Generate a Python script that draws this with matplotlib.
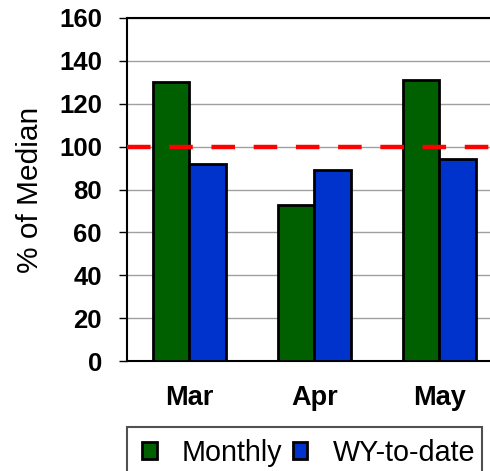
import numpy as np
import matplotlib.pyplot as plt
from matplotlib.patches import Rectangle

plt.rcParams['font.family'] = ['Liberation Sans', 'DejaVu Sans']

months = ["Mar", "Apr", "May"]
monthly = [130, 73, 131]
wy_to_date = [92, 89, 94]
median_line = 100

fig = plt.figure(figsize=(4.9, 4.71), dpi=100)
ax = fig.add_axes([0.259, 0.2335, 0.7655, 0.7283])

x = np.arange(len(months))
w = 0.295
ax.bar(x - w / 2, monthly, w, color="#006000", edgecolor="black", linewidth=2,
       label="Monthly", zorder=3)
ax.bar(x + w / 2, wy_to_date, w, color="#0033cc", edgecolor="black", linewidth=2,
       label="WY-to-date", zorder=3)
ax.axhline(median_line, color="red", linewidth=3.2, linestyle=(0, (5.3, 4.2)), zorder=4)

ax.set_xlim(-0.5, 2.5)
ax.set_ylim(0, 160)
ax.set_yticks(range(0, 161, 20))
ax.set_xticks(x)
ax.set_xticklabels(months, fontsize=19.5, fontweight="bold")
ax.tick_params(axis="y", labelsize=18.5, length=6, width=1, direction="out", pad=12)
for lbl in ax.get_yticklabels():
    lbl.set_fontweight("bold")
ax.tick_params(axis="x", length=0, pad=17)
ax.yaxis.grid(True, color="#a0a0a0", linewidth=1)
ax.set_axisbelow(True)
for s in ax.spines.values():
    s.set_linewidth(1.5)
ax.set_ylabel("% of Median", fontsize=21.5, labelpad=11)

# legend box (its bottom runs off the picture)
fig.patches.append(Rectangle((0.2592, -0.02), 0.7245, 0.1134, transform=fig.transFigure,
                             facecolor="none", edgecolor="#505050", linewidth=1.5))
fig.legend(loc="upper left", bbox_to_anchor=(0.2898, 0.068), ncol=2,
           fontsize=20.7, frameon=False, handlelength=0.52, handleheight=0.52,
           columnspacing=0.35, handletextpad=0.87, borderpad=0, borderaxespad=0)

fig.savefig("out.png", dpi=100)
